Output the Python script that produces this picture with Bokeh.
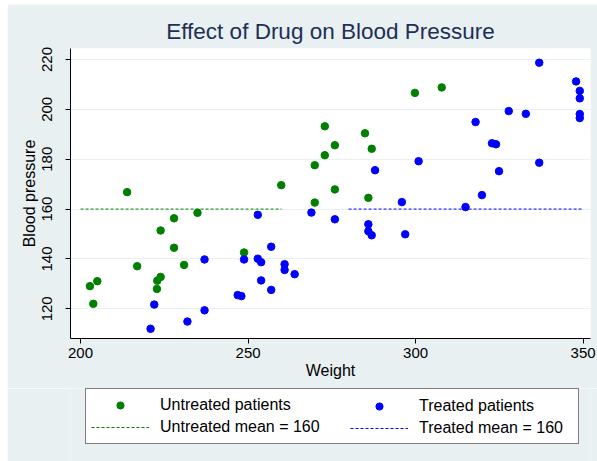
from bokeh.plotting import figure
from bokeh.layouts import column
from bokeh.models import Legend, LegendItem, FixedTicker
from bokeh.embed import file_html
from bokeh.resources import INLINE

# ---- data ----
untreated_weight = [202.8, 205.0, 203.8, 213.9, 216.9, 223.9, 227.9, 227.9, 230.9, 234.9,
                    222.9, 223.9, 222.8, 248.8, 259.9, 272.9, 275.9, 272.9, 269.9, 275.9,
                    269.9, 284.9, 286.9, 285.9, 299.8, 307.8]
untreated_bp = [129.1, 131.1, 122.0, 166.8, 137.1, 151.4, 156.3, 144.5, 137.6, 158.5,
                131.3, 132.8, 128.0, 142.6, 169.6, 193.2, 185.6, 181.6, 177.6, 167.9,
                162.6, 190.4, 184.2, 164.5, 206.6, 208.8]
treated_weight = [220.9, 222.0, 231.9, 237.0, 237.0, 246.9, 248.0, 248.8, 252.9, 252.9,
                  253.9, 256.9, 253.9, 256.9, 260.9, 260.9, 263.9, 268.9, 275.9, 287.9,
                  285.9, 285.9, 286.9, 295.9, 296.9, 300.9, 314.9, 319.8, 317.9, 322.8,
                  324.0, 324.9, 327.8, 332.9, 336.9, 336.9, 347.9, 349.0, 349.0, 349.0,
                  349.0]
treated_bp = [112.0, 121.7, 114.9, 119.4, 139.8, 125.5, 125.1, 139.8, 157.7, 140.1,
              138.7, 144.9, 131.4, 127.6, 137.9, 135.6, 133.9, 158.6, 155.9, 175.6,
              153.9, 151.1, 149.5, 162.8, 149.9, 179.2, 160.8, 165.6, 194.9, 186.4,
              186.0, 175.2, 199.3, 198.2, 218.7, 178.6, 211.2, 207.4, 204.4, 198.1,
              196.5]
untreated_mean_x = [200, 260]
untreated_mean_y = [160, 160]
treated_mean_x = [280, 350]
treated_mean_y = [160, 160]
x_ticks = [200, 250, 300, 350]
y_ticks = [120, 140, 160, 180, 200, 220]
legend_labels = ["Untreated patients", "Untreated mean = 160",
                 "Treated patients", "Treated mean = 160"]

FONT = "Liberation Sans"
BG = "#E8F0F2"
GREEN = "#008000"
BLUE = "#0000FF"
DASH = "3 2"

# ---------------- main plot ----------------
p = figure(width=590, height=384, margin=(4, 0, 0, 7),
           min_border_left=63, min_border_right=7, min_border_top=44, min_border_bottom=50,
           x_range=(197.0, 352.2), y_range=(108.1, 224.4),
           output_backend="svg", toolbar_location=None,
           background_fill_color="white", border_fill_color=BG, border_fill_alpha=1.0,
           outline_line_color=None)

p.title.text = "Effect of Drug on Blood Pressure"
p.title.align = "center"
p.title.text_font = FONT
p.title.text_font_size = "22.5px"
p.title.text_font_style = "normal"
p.title.text_color = "#1E2F55"

for ax in (p.xaxis[0], p.yaxis[0]):
    ax.axis_line_color = "black"
    ax.major_tick_line_color = "black"
    ax.minor_tick_line_color = None
    ax.major_tick_out = 5
    ax.major_tick_in = 0
    ax.major_label_text_font = FONT
    ax.major_label_text_font_size = "15px"
    ax.major_label_text_color = "black"
    ax.axis_label_text_font = FONT
    ax.axis_label_text_font_size = "16px"
    ax.axis_label_text_font_style = "normal"
    ax.axis_label_text_color = "black"

p.xaxis.ticker = FixedTicker(ticks=x_ticks)
p.yaxis.ticker = FixedTicker(ticks=y_ticks)
p.xaxis.axis_label = "Weight"
p.yaxis.axis_label = "Blood pressure"
p.xaxis.major_label_standoff = 4
p.xaxis.axis_label_standoff = 1
p.yaxis.major_label_standoff = 13
p.yaxis.axis_label_standoff = 2
p.yaxis.major_label_orientation = "vertical"

p.xgrid.grid_line_color = None
p.ygrid.grid_line_color = BG
p.ygrid.grid_line_width = 1.2

p.scatter(untreated_weight, untreated_bp, size=7.5, color=GREEN)
p.scatter(treated_weight, treated_bp, size=7.5, color=BLUE)
p.line(untreated_mean_x, untreated_mean_y, line_color=GREEN, line_dash=DASH, line_width=1)
p.line(treated_mean_x, treated_mean_y, line_color=BLUE, line_dash=DASH, line_width=1)

# ---------------- legend strip (frame aligned with the plot above) ----------------
q = figure(width=590, height=73, margin=(0, 0, 0, 7),
           min_border_left=63, min_border_right=7, min_border_top=0, min_border_bottom=0,
           x_range=(0, 1), y_range=(0, 1), x_axis_type=None, y_axis_type=None,
           output_backend="svg", toolbar_location=None,
           background_fill_color=BG, border_fill_color=BG, outline_line_color=None)
q.xgrid.grid_line_color = None
q.ygrid.grid_line_color = None

# off-screen stand-ins that only supply the legend swatches
k_un = q.scatter(x=[-10], y=[-10], size=7.5, color=GREEN)
k_unm = q.line(x=[-10, -9], y=[-10, -10], line_color=GREEN, line_dash=DASH, line_width=1.1)
k_tr = q.scatter(x=[-10], y=[-10], size=7.5, color=BLUE)
k_trm = q.line(x=[-10, -9], y=[-10, -10], line_color=BLUE, line_dash=DASH, line_width=1.1)


def style_legend(lg, boxed, label_width):
    lg.label_text_font = FONT
    lg.label_text_font_size = "16px"
    lg.label_text_color = "black"
    lg.glyph_width = 58
    lg.glyph_height = 18
    lg.label_height = 22
    lg.label_standoff = 11
    lg.label_width = label_width
    lg.spacing = 0
    lg.padding = 5
    lg.margin = 0
    if boxed:
        lg.border_line_color = "black"
        lg.border_line_width = 1
        lg.background_fill_color = "white"
        lg.background_fill_alpha = 1.0
    else:
        lg.border_line_color = None
        lg.background_fill_alpha = 0.0


legend_left = Legend(items=[
    LegendItem(label=legend_labels[0], renderers=[k_un]),
    LegendItem(label=legend_labels[1], renderers=[k_unm]),
], orientation="vertical", location=(15, 17))
style_legend(legend_left, True, 413)

# borderless legend gets no padding, so it is offset by the padding instead
legend_right = Legend(items=[
    LegendItem(label=legend_labels[2], renderers=[k_tr]),
    LegendItem(label=legend_labels[3], renderers=[k_trm]),
], orientation="vertical", location=(280, 22))
style_legend(legend_right, False, 150)

q.add_layout(legend_left, "center")
q.add_layout(legend_right, "center")

layout = column(p, q, spacing=0)
open("out.html", "w").write(file_html(layout, INLINE))
